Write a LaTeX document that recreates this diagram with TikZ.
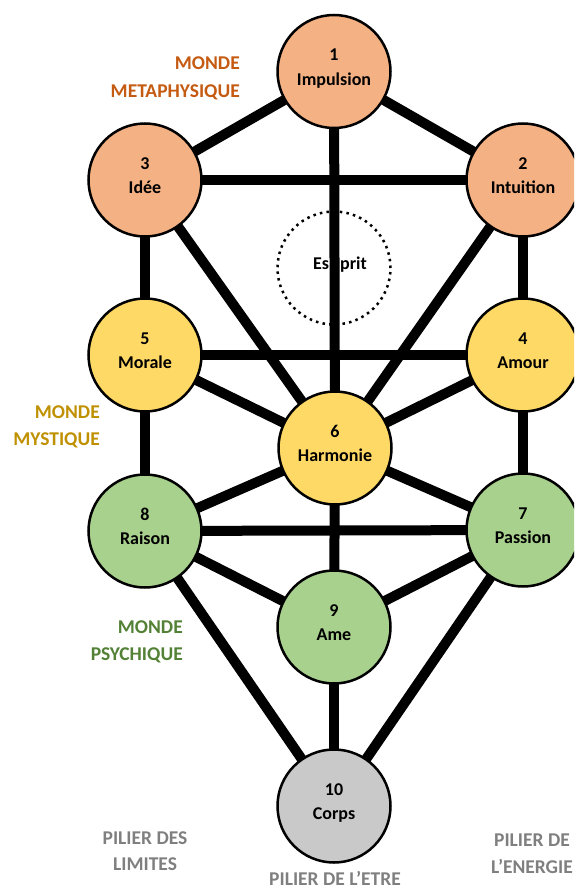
\documentclass[tikz,border=0pt]{standalone}
\usepackage{fontspec}
\setmainfont{Carlito}
\usetikzlibrary{backgrounds}
\definecolor{orangefill}{HTML}{F4B183}
\definecolor{yellowfill}{HTML}{FFD966}
\definecolor{greenfill}{HTML}{A9D18E}
\definecolor{grayfill}{HTML}{C9C9C9}
\definecolor{metacol}{HTML}{C55A11}
\definecolor{mystcol}{HTML}{BF9000}
\definecolor{psycol}{HTML}{538135}
\definecolor{piliercol}{HTML}{7F7F7F}
\tikzset{
  sephcircle/.style={circle, draw=black, line width=2.5pt, minimum size=113pt, inner sep=0pt},
  numtext/.style={font=\fontsize{18}{20}\selectfont\bfseries, inner sep=0pt, anchor=base},
  wordtext/.style={font=\fontsize{18}{20}\selectfont\bfseries, inner sep=0pt, anchor=base},
  link/.style={line width=10pt, black},
  worldlabel/.style={font=\fontsize{19.5}{22}\selectfont\bfseries, inner sep=0pt},
  espritcircle/.style={circle, draw=black, line width=2.5pt, dash pattern=on 2.5pt off 4.2pt, minimum size=113pt, inner sep=0pt}
}
\newcommand{\sephnode}[5]{%
  \node[sephcircle, fill=#3] (#1) at (#2) {};
  \node[numtext] (#1num) at ([yshift=10.8pt]#1.center) {#4};
  \node[wordtext] (#1word) at ([yshift=-13.5pt]#1.center) {#5};
}
\begin{document}
\begin{tikzpicture}[x=1pt,y=-1pt]
\useasboundingbox (0,0) rectangle (574,891);
\clip (0,0) rectangle (574,891);

\sephnode{n1}{334,71.5}{orangefill}{1}{Impulsion}
\sephnode{n3}{145,180}{orangefill}{3}{Idée}
\sephnode{n2}{523,180}{orangefill}{2}{Intuition}
\sephnode{n5}{145,355}{yellowfill}{5}{Morale}
\sephnode{n4}{523,355}{yellowfill}{4}{Amour}
\sephnode{n6}{335,448}{yellowfill}{6}{Harmonie}
\sephnode{n8}{145,531}{greenfill}{8}{Raison}
\sephnode{n7}{523,530}{greenfill}{7}{Passion}
\sephnode{n9}{334,627}{greenfill}{9}{Ame}
\sephnode{n10}{334,806}{grayfill}{10}{Corps}

\begin{pgfonlayer}{background}
  \node[espritcircle] (esprit) at (334,268) {};
  \node[wordtext, anchor=base west] (espritword) at (313,269) {Es\hspace{11pt}prit};
  \draw[link] (n1.center) -- (n3.center);
  \draw[link] (n1.center) -- (n2.center);
  \draw[link] (n1.center) -- (n6.center);
  \draw[link] (n3.center) -- (n2.center);
  \draw[link] (n3.center) -- (n5.center);
  \draw[link] (n3.center) -- (n6.center);
  \draw[link] (n2.center) -- (n4.center);
  \draw[link] (n2.center) -- (n6.center);
  \draw[link] (n5.center) -- (n4.center);
  \draw[link] (n5.center) -- (n6.center);
  \draw[link] (n4.center) -- (n6.center);
  \draw[link] (n5.center) -- (n8.center);
  \draw[link] (n4.center) -- (n7.center);
  \draw[link] (n6.center) -- (n8.center);
  \draw[link] (n6.center) -- (n7.center);
  \draw[link] (n6.center) -- (n9.center);
  \draw[link] (n8.center) -- (n7.center);
  \draw[link] (n8.center) -- (n9.center);
  \draw[link] (n7.center) -- (n9.center);
  \draw[link] (n8.center) -- (n10.center);
  \draw[link] (n7.center) -- (n10.center);
  \draw[link] (n9.center) -- (n10.center);
\end{pgfonlayer}

\node[worldlabel, text=metacol, anchor=base east] (meta1) at (240,69.5) {MONDE};
\node[worldlabel, text=metacol, anchor=base east] (meta2) at (240,97.5) {METAPHYSIQUE};
\node[worldlabel, text=mystcol, anchor=base east] (myst1) at (100,418.5) {MONDE};
\node[worldlabel, text=mystcol, anchor=base east] (myst2) at (100,445.5) {MYSTIQUE};
\node[worldlabel, text=psycol, anchor=base east] (psy1) at (183,633.3) {MONDE};
\node[worldlabel, text=psycol, anchor=base east] (psy2) at (183,660) {PSYCHIQUE};
\node[worldlabel, text=piliercol, anchor=base] (pl1) at (145,844) {PILIER DES};
\node[worldlabel, text=piliercol, anchor=base] (pl2) at (145,870.7) {LIMITES};
\node[worldlabel, text=piliercol, anchor=base] (pe1) at (532,846) {PILIER DE};
\node[worldlabel, text=piliercol, anchor=base] (pe2) at (532,873) {L’ENERGIE};
\node[worldlabel, text=piliercol, anchor=base] (pt1) at (335,885) {PILIER DE L’ETRE};
\end{tikzpicture}
\end{document}
